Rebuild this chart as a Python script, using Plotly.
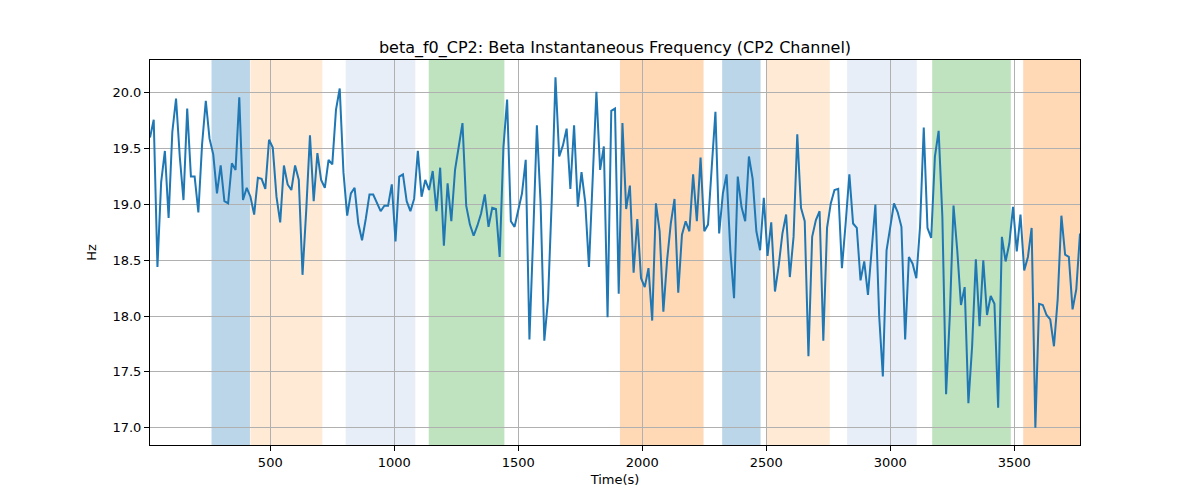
import numpy as np
import plotly.graph_objects as go

# Sample times (s): regular 15 s steps
time_s = np.arange(15, 3766, 15)

# Beta instantaneous frequency (Hz)
freq_hz = [
    19.60, 19.76, 18.44, 19.20, 19.48, 18.88, 19.65, 19.95, 19.43, 19.04,
    19.86, 19.25, 19.25, 18.93, 19.54, 19.93, 19.59, 19.45, 19.10, 19.35,
    19.03, 19.01, 19.37, 19.31, 19.96, 19.04, 19.15, 19.07, 18.91, 19.24,
    19.23, 19.14, 19.58, 19.51, 19.07, 18.84, 19.35, 19.18, 19.13, 19.35,
    19.22, 18.37,
    18.95, 19.62, 19.03, 19.46, 19.22, 19.15, 19.40, 19.36, 19.85, 20.04,
    19.29, 18.90, 19.10, 19.15, 18.83, 18.68, 18.87, 19.09, 19.09, 19.01,
    18.94, 18.99, 18.99, 19.18, 18.67, 19.25, 19.27, 19.03, 18.94, 19.05,
    19.48, 19.07, 19.22, 19.13, 19.30, 18.94, 19.33, 18.63, 19.19, 18.85,
    19.31, 19.52, 19.73,
    18.99, 18.82, 18.72, 18.81, 18.92, 19.09, 18.80, 18.97, 18.96, 18.53,
    19.51, 19.94, 18.85, 18.80, 18.95, 19.10, 19.40, 17.79, 18.71, 19.71,
    19.01, 17.78, 18.15, 19.04, 20.14, 19.43, 19.53, 19.68, 19.14, 19.71,
    18.98, 19.29, 19.02, 18.44, 19.23, 20.01, 19.31, 19.52, 17.99, 19.84,
    19.86,
    18.20, 19.73, 18.96, 19.17, 18.39, 18.87, 18.34, 18.26, 18.43, 17.96,
    19.01, 18.76, 18.04, 18.50, 18.83, 19.05, 18.21, 18.73, 18.85, 18.76,
    19.27, 18.85, 19.42, 18.76, 18.82, 19.33, 19.83, 18.74, 19.10, 19.27,
    18.59, 18.16, 19.25, 18.98, 18.85, 19.43, 19.23, 18.76, 18.59, 19.06,
    18.54, 18.84,
    18.22, 18.45, 18.74, 18.91, 18.35, 18.71, 19.63, 18.97, 18.85, 17.64,
    18.71, 18.86, 18.94, 17.78, 18.79, 19.01, 19.13, 19.14, 18.43, 18.83,
    19.27, 18.83, 18.79, 18.32, 18.49, 18.19, 18.59, 19.00, 18.01, 17.46,
    18.59, 18.81, 19.01, 18.93, 18.80, 17.79, 18.53, 18.47, 18.34, 18.80,
    19.69,
    18.79, 18.70, 19.43, 19.66, 18.89, 17.30, 18.00, 18.99, 18.59, 18.10,
    18.26, 17.22, 17.73, 18.51, 17.91, 18.50, 18.01, 18.18, 18.11, 17.18,
    18.71, 18.49, 18.65, 18.98, 18.58, 18.91, 18.41, 18.53, 18.79, 17.00,
    18.11, 18.10, 18.01, 17.97, 17.73, 18.15, 18.90, 18.55, 18.53, 18.06,
    18.24, 18.74,
]

# Shaded intervals (s)
span_starts = [263, 420, 804, 1139, 1910, 2322, 2502, 2826, 3169, 3536]
span_ends = [418, 710, 1085, 1444, 2247, 2477, 2756, 3107, 3486, 3765]
span_colors = ["#1f77b4", "#ffbb78", "#aec7e8", "#2ca02c", "#ff7f0e",
               "#1f77b4", "#ffbb78", "#aec7e8", "#2ca02c", "#ff7f0e"]

x_range = [15, 3765]
y_range = [16.845, 20.295]

fig = go.Figure()
fig.add_trace(go.Scatter(
    x=time_s, y=freq_hz, mode="lines",
    line=dict(color="#1f77b4", width=2),
    showlegend=False,
))

for s, e, c in zip(span_starts, span_ends, span_colors):
    fig.add_vrect(x0=s, x1=e, fillcolor=c, opacity=0.3,
                  line_width=0, layer="below")

font_family = "DejaVu Sans, sans-serif"
axis_common = dict(
    showline=True, linecolor="black", linewidth=1, mirror=True,
    showgrid=True, gridcolor="#b0b0b0", gridwidth=1,
    ticks="outside", ticklen=5, tickcolor="black", tickwidth=1,
    zeroline=False,
    tickfont=dict(family=font_family, size=13, color="black"),
)

fig.update_layout(
    width=1200, height=500,
    margin=dict(l=150, r=120, t=60, b=55),
    paper_bgcolor="white", plot_bgcolor="white",
    font=dict(family=font_family, color="black"),
    title=dict(
        text="beta_f0_CP2: Beta Instantaneous Frequency (CP2 Channel)",
        x=0.5, xref="paper", xanchor="center",
        y=1, yref="paper", yanchor="bottom", pad=dict(b=7),
        font=dict(family=font_family, size=16, color="black"),
    ),
    xaxis=dict(
        range=x_range, dtick=500, tick0=0,
        title=dict(text="Time(s)", font=dict(family=font_family, size=13), standoff=6),
        **axis_common,
    ),
    yaxis=dict(
        range=y_range, dtick=0.5, tick0=17, tickformat=".1f",
        title=dict(text="Hz", font=dict(family=font_family, size=13), standoff=12),
        **axis_common,
    ),
)

fig.write_html("out.html", config={"displayModeBar": False},
               post_script="document.body.style.margin='0';")
